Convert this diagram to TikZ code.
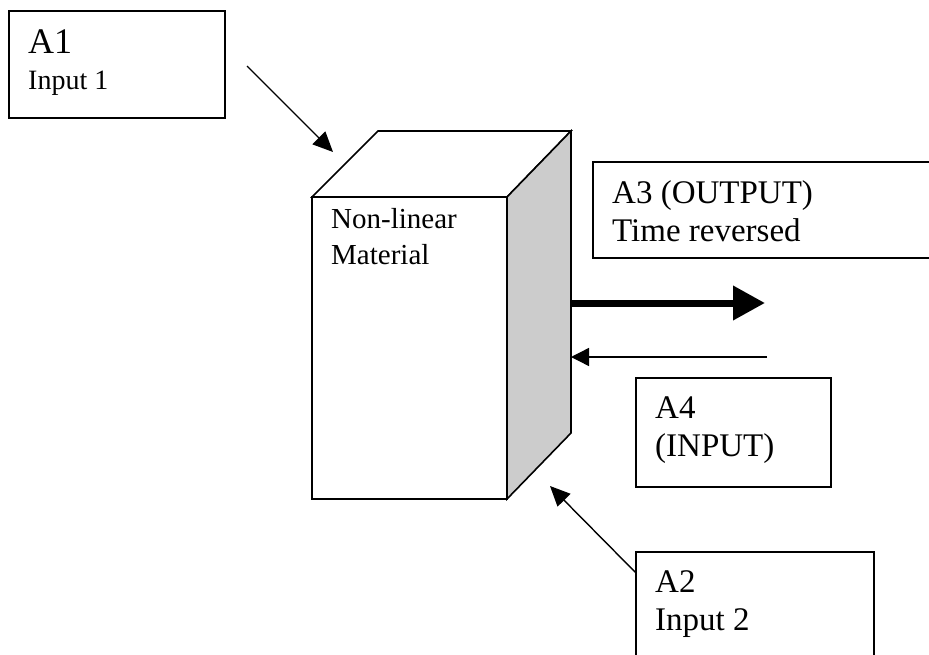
\documentclass[tikz,border=0pt]{standalone}
\usepackage{fontspec}
\setmainfont{Liberation Serif}
\usetikzlibrary{arrows.meta}
\tikzset{
  tbox/.style={draw, line width=1.6pt, anchor=north west, inner sep=0pt, outer sep=0pt},
  txt/.style={anchor=base west, inner sep=0pt, align=left},
  bigtxt/.style={txt, font=\fontsize{33}{38}\selectfont},
  thinarrow/.style={line width=1.4pt, -{Triangle[length=20pt, width=18pt]}},
  thickarrow/.style={line width=7pt, -{Triangle[length=32pt, width=33pt]}}
}
\begin{document}
\begin{tikzpicture}[x=1pt,y=-1pt]
\clip (0,0) rectangle (929,655);
\fill[white] (0,0) rectangle (929,655);

% text boxes
\node[tbox, minimum width=216pt, minimum height=107pt] (boxA1) at (9,11) {};
\node[tbox, minimum width=360pt, minimum height=96pt] (boxA3) at (593,162) {};
\node[tbox, minimum width=195pt, minimum height=109pt] (boxA4) at (636,378) {};
\node[tbox, minimum width=238pt, minimum height=130pt] (boxA2) at (636,552) {};

\node[txt, font=\fontsize{36}{38}\selectfont] (tA1) at (28,54) {A1};
\node[txt, font=\fontsize{28}{34}\selectfont] (tIn1) at (28,90) {Input 1};
\node[bigtxt] (tA3) at (612,241) {A3 (OUTPUT)\\Time reversed};
\node[bigtxt] (tA4) at (655,456) {A4\\(INPUT)};
\node[bigtxt] (tA2) at (655,630) {A2\\Input 2};

% cube
\coordinate (btl) at (378,131);
\coordinate (btr) at (571,131);
\coordinate (bbr) at (571,433);
\node[draw, line width=1.6pt, fill=white, anchor=north west, inner sep=0pt, outer sep=0pt,
      minimum width=195pt, minimum height=302pt] (front) at (312,197) {};
\draw[line width=1.6pt, fill=white, line join=miter] (front.north west) -- (btl) -- (btr) -- (front.north east) -- cycle;
\draw[line width=1.6pt, fill={rgb,255:red,204;green,204;blue,204}, line join=miter]
  (front.north east) -- (btr) -- (bbr) -- (front.south east) -- cycle;
\node[txt, font=\fontsize{29}{36}\selectfont] (tNL) at (331,265) {Non-linear\\Material};

% arrows
\coordinate (a1s) at (247,66);
\coordinate (a1e) at (333,152);
\coordinate (outs) at (571,303);
\coordinate (oute) at (765,303);
\coordinate (ins) at (767,357);
\coordinate (ine) at (571,357);
\coordinate (a2e) at (550,486);
\draw[thinarrow] (a1s) -- (a1e);
\draw[thickarrow] (outs) -- (oute);
\draw[thinarrow, -{Triangle[length=18pt, width=18pt]}] (ins) -- (ine);
\draw[thinarrow] (boxA2.west |- 0,573) -- (a2e);
\end{tikzpicture}
\end{document}
